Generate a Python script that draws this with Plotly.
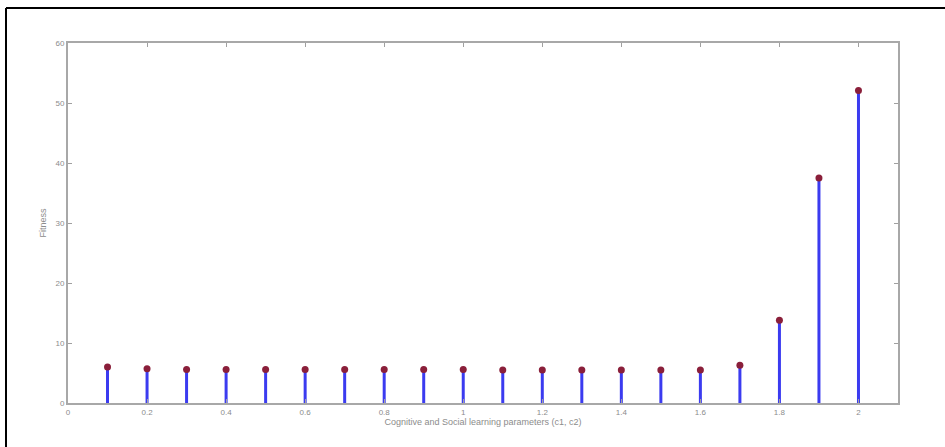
import plotly.graph_objects as go

# Data
c_values = [0.1, 0.2, 0.3, 0.4, 0.5, 0.6, 0.7, 0.8, 0.9, 1.0,
            1.1, 1.2, 1.3, 1.4, 1.5, 1.6, 1.7, 1.8, 1.9, 2.0]
fitness = [6.0, 5.7, 5.6, 5.6, 5.6, 5.6, 5.6, 5.6, 5.6, 5.6,
           5.5, 5.5, 5.5, 5.5, 5.5, 5.5, 6.3, 13.8, 37.5, 52.1]
x_ticks = [0, 0.2, 0.4, 0.6, 0.8, 1, 1.2, 1.4, 1.6, 1.8, 2]
x_tick_labels = ["0", "0.2", "0.4", "0.6", "0.8", "1", "1.2", "1.4", "1.6", "1.8", "2"]
y_ticks = [0, 10, 20, 30, 40, 50, 60]
y_tick_labels = ["0", "10", "20", "30", "40", "50", "60"]

W, H = 945, 447
ML, MR, MT, MB = 68, 47, 43, 44

stem_x, stem_y = [], []
for xv, yv in zip(c_values, fitness):
    stem_x += [xv, xv, None]
    stem_y += [0, yv, None]

fig = go.Figure()
fig.add_trace(go.Scatter(x=stem_x, y=stem_y, mode="lines",
                         line=dict(color="#3b3bf0", width=3),
                         hoverinfo="skip", showlegend=False))
fig.add_trace(go.Scatter(x=c_values, y=fitness, mode="markers",
                         marker=dict(color="#8a1f3a", size=7,
                                     line=dict(width=0)),
                         showlegend=False))

axis_font = dict(family="Liberation Sans, Arial, sans-serif", size=8, color="#8c8c8c")
fig.update_xaxes(range=[0, 2.1], tickvals=x_ticks, ticktext=x_tick_labels,
                 showgrid=False, zeroline=False, showline=True, mirror="ticks",
                 linecolor="#a8a8a8", linewidth=2, ticks="inside", ticklen=4,
                 tickcolor="#a0a0a0", tickfont=axis_font,
                 title=dict(text="Cognitive and Social learning parameters (c1, c2)",
                            font=dict(family="Liberation Sans, Arial, sans-serif",
                                      size=9, color="#8c8c8c"), standoff=1))
fig.update_yaxes(range=[0, 60], tickvals=y_ticks, ticktext=y_tick_labels,
                 showgrid=False, zeroline=False, showline=True, mirror="ticks",
                 linecolor="#a8a8a8", linewidth=2, ticks="inside", ticklen=4,
                 tickcolor="#a0a0a0", tickfont=axis_font,
                 title=dict(text="Fitness",
                            font=dict(family="Liberation Sans, Arial, sans-serif",
                                      size=9, color="#8c8c8c"), standoff=7))

# outer black frame (left and top edges), in paper coordinates
pw = W - ML - MR
ph = H - MT - MB
def px_to_paper_x(p):
    return (p - ML) / pw
def px_to_paper_y(p):
    return (H - MB - p) / ph

fig.add_shape(type="line", xref="paper", yref="paper",
              x0=px_to_paper_x(6), x1=px_to_paper_x(6),
              y0=px_to_paper_y(8), y1=px_to_paper_y(450),
              line=dict(color="black", width=2))
fig.add_shape(type="line", xref="paper", yref="paper",
              x0=px_to_paper_x(6), x1=px_to_paper_x(950),
              y0=px_to_paper_y(8), y1=px_to_paper_y(8),
              line=dict(color="black", width=2))

fig.update_layout(width=W, height=H,
                  margin=dict(l=ML, r=MR, t=MT, b=MB),
                  paper_bgcolor="white", plot_bgcolor="white")

fig.write_html("out.html", config={"displayModeBar": False},
               post_script="document.body.style.margin='0';document.body.style.overflow='hidden';")
